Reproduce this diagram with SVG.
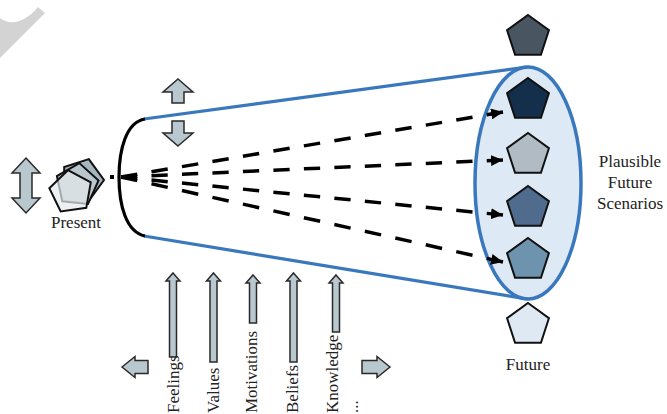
<svg xmlns="http://www.w3.org/2000/svg" xmlns:xlink="http://www.w3.org/1999/xlink" width="667" height="414" viewBox="0 0 667 414">
  <style>
    .lbl { font-family: "Liberation Serif", "Times New Roman", serif; font-size: 17px; fill: #222; }
    .mid { text-anchor: middle; }
    .blk { fill: #b9c7cf; stroke: #2a2a2a; stroke-width: 1.5; stroke-linejoin: miter; }
    .pent { stroke: #111; stroke-width: 2; stroke-linejoin: miter; }
    .cone { fill: none; stroke: #3a78bd; stroke-width: 3.2; }
    .dash { fill: none; stroke: #000; stroke-width: 3.5; stroke-dasharray: 16 14; marker-end: url(#head); }
  </style>
  <defs>
    <polygon id="pg" points="0,-22 20.92,-6.8 12.93,17.8 -12.93,17.8 -20.92,-6.8"/>
    <marker id="head" markerUnits="userSpaceOnUse" markerWidth="12" markerHeight="11" refX="12" refY="5.5" orient="auto">
      <path d="M0,0 L12,5.5 L0,11 Z" fill="#000"/>
    </marker>
  </defs>

  <rect width="667" height="414" fill="#fff"/>

  <!-- corner mark -->
  <path d="M0,18 C8,24 22,26 38,7 L45,13 L0,58 Z" fill="#d3d3d3"/>

  <!-- scenario set (ellipse) with cone edges -->
  <g id="scenarios">
    <ellipse cx="528" cy="183" rx="53" ry="116" fill="#dde9f4" stroke="#3a78bd" stroke-width="3.5"/>
  </g>
  <g id="cone">
    <line class="cone" x1="144" y1="119" x2="527" y2="67"/>
    <line class="cone" x1="144" y1="236" x2="527" y2="299"/>
    <path d="M145,119 C126,122 119,150 119,177 C119,205 126,232 145,236" fill="none" stroke="#000" stroke-width="3.2"/>
  </g>

  <!-- projections from the present towards the future scenarios -->
  <g id="connectors">
    <rect x="110" y="175" width="4" height="4" fill="#000"/>
    <line class="dash" x1="121" y1="177" x2="503" y2="112" pathLength="376"/>
    <line class="dash" x1="121" y1="177" x2="503" y2="160" pathLength="376"/>
    <line class="dash" x1="121" y1="177" x2="503" y2="215" pathLength="376"/>
    <line class="dash" x1="121" y1="177" x2="503" y2="262" pathLength="376"/>
  </g>

  <!-- future states -->
  <g id="future-top"><use xlink:href="#pg" class="pent" fill="#4a5562" transform="translate(528,37)"/></g>
  <g id="scenario-1"><use xlink:href="#pg" class="pent" fill="#132f4c" transform="translate(528,100)"/></g>
  <g id="scenario-2"><use xlink:href="#pg" class="pent" fill="#b1bbc4" transform="translate(528,155)"/></g>
  <g id="scenario-3"><use xlink:href="#pg" class="pent" fill="#4f6b8e" transform="translate(528,208)"/></g>
  <g id="scenario-4"><use xlink:href="#pg" class="pent" fill="#6e93ae" transform="translate(528,260)"/></g>
  <g id="future-bottom"><use xlink:href="#pg" class="pent" fill="#dfe9f4" transform="translate(528,325)"/></g>

  <g id="future-label"><text class="lbl mid" x="528" y="370">Future</text></g>
  <g id="plausible-label">
    <text class="lbl mid" x="630" y="167">Plausible</text>
    <text class="lbl mid" x="630" y="188">Future</text>
    <text class="lbl mid" x="630" y="209">Scenarios</text>
  </g>

  <!-- present state -->
  <g id="present">
    <use xlink:href="#pg" class="pent" fill="#a6b6c1" transform="translate(82,180) rotate(18)"/>
    <use xlink:href="#pg" class="pent" fill="#b9c6ce" transform="translate(77,185) rotate(6)"/>
    <use xlink:href="#pg" class="pent" fill="#e4e9ed" fill-opacity="0.7" transform="translate(71,192) rotate(-8)"/>
    <text class="lbl mid" x="76" y="228">Present</text>
  </g>

  <!-- movement arrows -->
  <g id="present-shift">
    <path class="blk" d="M26,158 L40,173 L32,173 L32,198 L40,198 L26,213 L12,198 L20,198 L20,173 L12,173 Z"/>
  </g>
  <g id="shift-up">
    <path class="blk" d="M178,79 L193,92 L184,92 L184,103 L172,103 L172,92 L163,92 Z"/>
  </g>
  <g id="shift-down">
    <path class="blk" d="M178,146 L193,133 L184,133 L184,121 L172,121 L172,133 L163,133 Z"/>
  </g>
  <g id="shift-left">
    <path class="blk" d="M122,367 L135,356.5 L135,360.5 L148,360.5 L148,373.5 L135,373.5 L135,377.5 Z"/>
  </g>
  <g id="shift-right">
    <path class="blk" d="M390,367 L377,356.5 L377,360.5 L362,360.5 L362,373.5 L377,373.5 L377,377.5 Z"/>
  </g>

  <!-- influencing factors -->
  <g id="feelings">
    <path class="blk" d="M173,273 L180,281 L176.5,281 L176.5,357 L169.5,357 L169.5,281 L166,281 Z"/>
    <text class="lbl" transform="translate(178.5,413) rotate(-90)">Feelings</text>
  </g>
  <g id="values">
    <path class="blk" d="M213.5,273 L220.5,281 L217,281 L217,362 L210,362 L210,281 L206.5,281 Z"/>
    <text class="lbl" transform="translate(218.5,413) rotate(-90)">Values</text>
  </g>
  <g id="motivations">
    <path class="blk" d="M253,275 L260,283 L256.5,283 L256.5,323 L249.5,323 L249.5,283 L246,283 Z"/>
    <text class="lbl" transform="translate(257,413) rotate(-90)">Motivations</text>
  </g>
  <g id="beliefs">
    <path class="blk" d="M293.5,273 L300.5,281 L297,281 L297,362 L290,362 L290,281 L286.5,281 Z"/>
    <text class="lbl" transform="translate(297.5,413) rotate(-90)">Beliefs</text>
  </g>
  <g id="knowledge">
    <path class="blk" d="M336,275 L343,283 L339.5,283 L339.5,332 L332.5,332 L332.5,283 L329,283 Z"/>
    <text class="lbl" transform="translate(337.5,413) rotate(-90)">Knowledge</text>
  </g>
  <g id="more">
    <text class="lbl" transform="translate(358,413) rotate(-90)">...</text>
  </g>
</svg>
